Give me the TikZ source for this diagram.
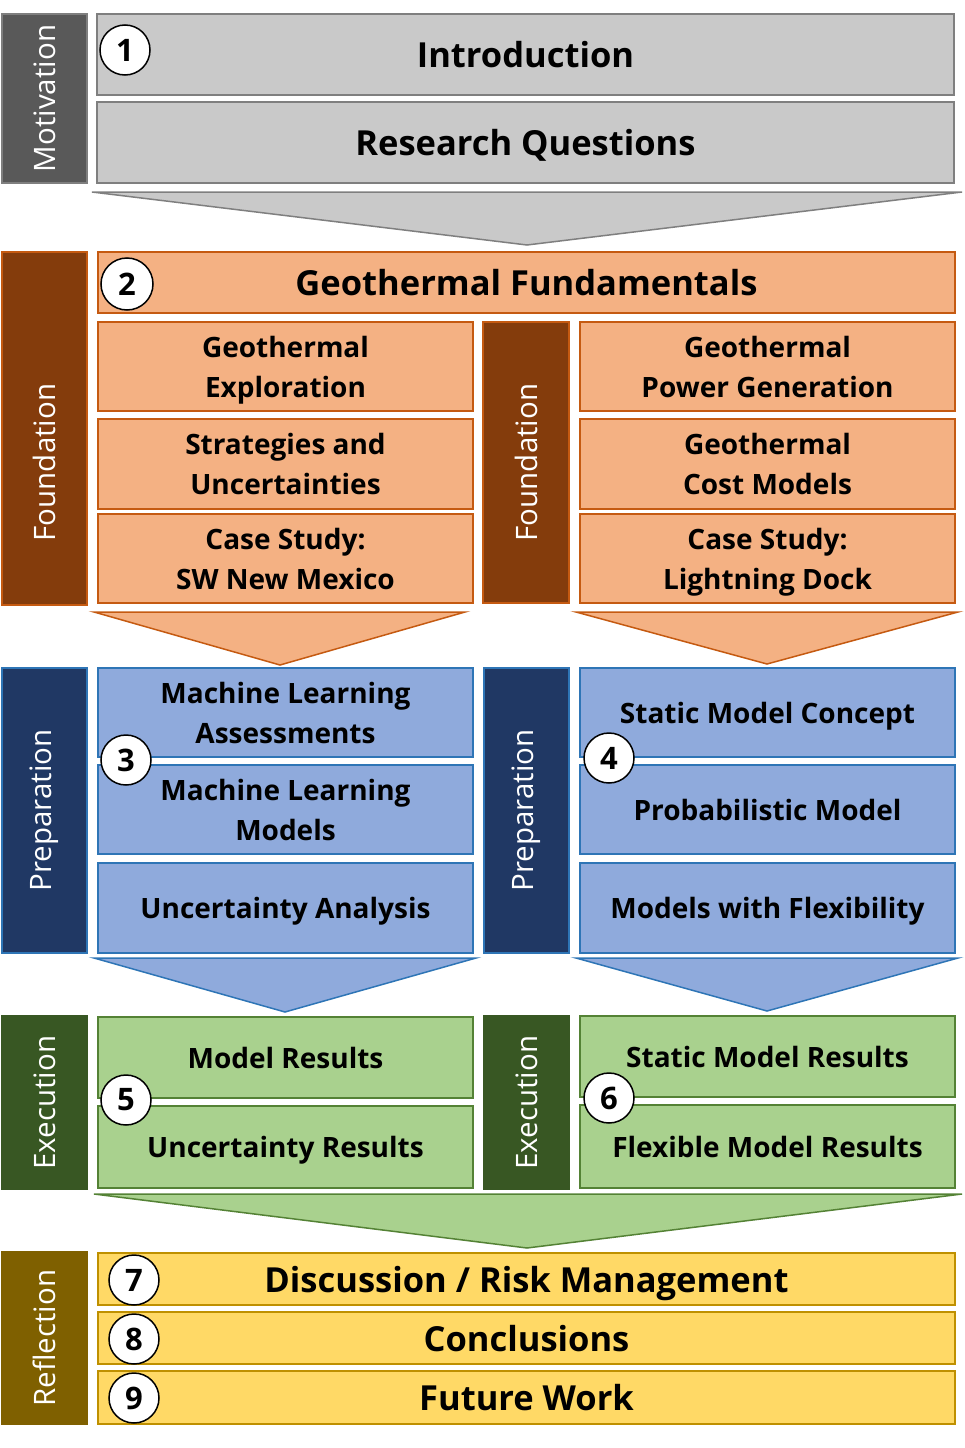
\documentclass[tikz,border=0pt]{standalone}
\usepackage{fontspec}
\setmainfont{Open Sans}
\newfontfamily\boxfont{Open Sans}
\begin{document}
\begin{tikzpicture}[x=1pt,y=-1pt,
  box/.style={draw, line width=2pt, inner sep=0pt, align=center, text=black, text depth=0pt,
    font=\boxfont\bfseries\fontsize{28}{40}\selectfont},
  bigtext/.style={font=\boxfont\bfseries\fontsize{34.5}{40}\selectfont},
  sidebar/.style={draw, line width=1.5pt, inner sep=0pt},
  sidelabel/.style={rotate=90, text=white, font=\fontsize{29.5}{34}\selectfont},
  numcirc/.style={circle, draw=black, fill=white, line width=1.5pt, minimum size=50pt,
    inner sep=0pt, font=\boxfont\bfseries\fontsize{31}{32}\selectfont},
  chev/.style={line width=1.5pt},
  gbox/.style={box, fill=grayF, draw=grayB},
  obox/.style={box, fill=orF, draw=orB},
  bbox/.style={box, fill=blF, draw=blB},
  nbox/.style={box, fill=grF, draw=grB},
  ybox/.style={box, fill=yeF, draw=yeB},
  leftcol/.style={minimum width=375pt},
  rightcol/.style={minimum width=375pt},
  wide/.style={minimum width=857pt},
]
\definecolor{grayF}{HTML}{C9C9C9}\definecolor{grayB}{HTML}{7F7F7F}\definecolor{grayD}{HTML}{595959}
\definecolor{orF}{HTML}{F4B183}\definecolor{orB}{HTML}{C55A11}\definecolor{orD}{HTML}{843C0C}
\definecolor{blF}{HTML}{8FAADC}\definecolor{blB}{HTML}{2E75B6}\definecolor{blD}{HTML}{203864}
\definecolor{grF}{HTML}{A9D18E}\definecolor{grB}{HTML}{548235}\definecolor{grD}{HTML}{385723}
\definecolor{yeF}{HTML}{FFD966}\definecolor{yeB}{HTML}{BF9000}\definecolor{yeD}{HTML}{7F6000}

\useasboundingbox (0,0) rectangle (964,1448);

% ---------- Motivation ----------
\node[sidebar, fill=grayD, draw=grayB, minimum width=85pt, minimum height=169pt] (motbar) at (44.5,98.5) {};
\node[sidelabel] (motlab) at (motbar.center) {Motivation};
\node[gbox, wide, minimum height=81pt, bigtext] (intro) at (525.5,54.5) {Introduction};
\node[gbox, wide, minimum height=81pt, bigtext] (rq) at (525.5,142.5) {Research Questions};
\node[numcirc] (n1) at (125,50) {1};
\coordinate (gc1) at (92,192); \coordinate (gc2) at (962,192); \coordinate (gc3) at (527,245);
\draw[chev, fill=grayF, draw=grayB] (gc1) -- (gc2) -- (gc3) -- cycle;

% ---------- Foundation ----------
\node[sidebar, fill=orD, draw=orB, minimum width=85pt, minimum height=353pt] (fbar) at (44.5,428.5) {};
\node[sidelabel] (flab) at (44.5,462.5) {Foundation};
\node[obox, minimum width=857pt, minimum height=61pt, bigtext] (gf) at (526.5,282.5) {Geothermal Fundamentals};
\node[numcirc, minimum size=52pt] (n2) at (127,284) {2};
\node[obox, leftcol, minimum height=89pt] (ge) at (285.5,366.5) {Geothermal\\Exploration};
\node[obox, leftcol, minimum height=90pt] (su) at (285.5,464) {Strategies and\\Uncertainties};
\node[obox, leftcol, minimum height=89pt] (cs1) at (285.5,558.5) {Case Study:\\SW New Mexico};
\node[sidebar, fill=orD, draw=orB, minimum width=86pt, minimum height=281pt] (fbar2) at (526,462.5) {};
\node[sidelabel] (flab2) at (fbar2.center) {Foundation};
\node[obox, rightcol, minimum height=89pt] (gp) at (767.5,366.5) {Geothermal\\Power Generation};
\node[obox, rightcol, minimum height=90pt] (gcm) at (767.5,464) {Geothermal\\Cost Models};
\node[obox, rightcol, minimum height=89pt] (cs2) at (767.5,558.5) {Case Study:\\Lightning Dock};
\coordinate (oc1) at (94,612); \coordinate (oc2) at (465,612); \coordinate (oc3) at (280,665);
\draw[chev, fill=orF, draw=orB] (oc1) -- (oc2) -- (oc3) -- cycle;
\coordinate (oc4) at (576,612); \coordinate (oc5) at (958,612); \coordinate (oc6) at (767,664);
\draw[chev, fill=orF, draw=orB] (oc4) -- (oc5) -- (oc6) -- cycle;

% ---------- Preparation ----------
\node[sidebar, fill=blD, draw=blB, minimum width=85pt, minimum height=285pt] (pbar) at (44.5,810.5) {};
\node[sidelabel] (plab) at (pbar.center) {Preparation};
\node[bbox, leftcol, minimum height=89pt] (mla) at (285.5,712.5) {Machine Learning\\Assessments};
\node[bbox, leftcol, minimum height=89pt] (mlm) at (285.5,809.5) {Machine Learning\\Models};
\node[bbox, leftcol, minimum height=90pt] (ua) at (285.5,908) {Uncertainty Analysis};
\node[numcirc] (n3) at (126,760) {3};
\node[sidebar, fill=blD, draw=blB, minimum width=85pt, minimum height=285pt] (pbar2) at (526.5,810.5) {};
\node[sidelabel] (plab2) at (pbar2.center) {Preparation};
\node[bbox, rightcol, minimum height=89pt] (smc) at (767.5,712.5) {Static Model Concept};
\node[bbox, rightcol, minimum height=89pt] (pm) at (767.5,809.5) {Probabilistic Model};
\node[bbox, rightcol, minimum height=90pt] (mwf) at (767.5,908) {Models with Flexibility};
\node[numcirc] (n4) at (609,758) {4};
\coordinate (bc1) at (94,958); \coordinate (bc2) at (476,958); \coordinate (bc3) at (285,1012);
\draw[chev, fill=blF, draw=blB] (bc1) -- (bc2) -- (bc3) -- cycle;
\coordinate (bc4) at (576,958); \coordinate (bc5) at (958,958); \coordinate (bc6) at (767,1011);
\draw[chev, fill=blF, draw=blB] (bc4) -- (bc5) -- (bc6) -- cycle;

% ---------- Execution ----------
\node[sidebar, fill=grD, draw=grD, minimum width=85pt, minimum height=173pt] (ebar) at (44.5,1102.5) {};
\node[sidelabel] (elab) at (ebar.center) {Execution};
\node[nbox, leftcol, minimum height=81pt] (mr) at (285.5,1057.5) {Model Results};
\node[nbox, leftcol, minimum height=82pt] (ur) at (285.5,1147) {Uncertainty Results};
\node[numcirc] (n5) at (126,1100) {5};
\node[sidebar, fill=grD, draw=grD, minimum width=85pt, minimum height=173pt] (ebar2) at (526.5,1102.5) {};
\node[sidelabel] (elab2) at (ebar2.center) {Execution};
\node[nbox, rightcol, minimum height=81pt] (smr) at (767.5,1056.5) {Static Model Results};
\node[nbox, rightcol, minimum height=83pt] (fmr) at (767.5,1146.5) {Flexible Model Results};
\node[numcirc] (n6) at (609,1098) {6};
\coordinate (nc1) at (94,1194); \coordinate (nc2) at (962,1194); \coordinate (nc3) at (527,1248);
\draw[chev, fill=grF, draw=grB] (nc1) -- (nc2) -- (nc3) -- cycle;

% ---------- Reflection ----------
\node[sidebar, fill=yeD, draw=yeD, minimum width=85pt, minimum height=172pt] (rbar) at (44.5,1338) {};
\node[sidelabel] (rlab) at (rbar.center) {Reflection};
\node[ybox, wide, minimum height=52pt, bigtext] (disc) at (526.5,1279) {Discussion / Risk Management};
\node[ybox, wide, minimum height=52pt, bigtext] (conc) at (526.5,1338) {Conclusions};
\node[ybox, wide, minimum height=53pt, bigtext] (fw) at (526.5,1397.5) {Future Work};
\node[numcirc] (n7) at (134,1280) {7};
\node[numcirc] (n8) at (134,1339) {8};
\node[numcirc] (n9) at (134,1398) {9};
\end{tikzpicture}
\end{document}
